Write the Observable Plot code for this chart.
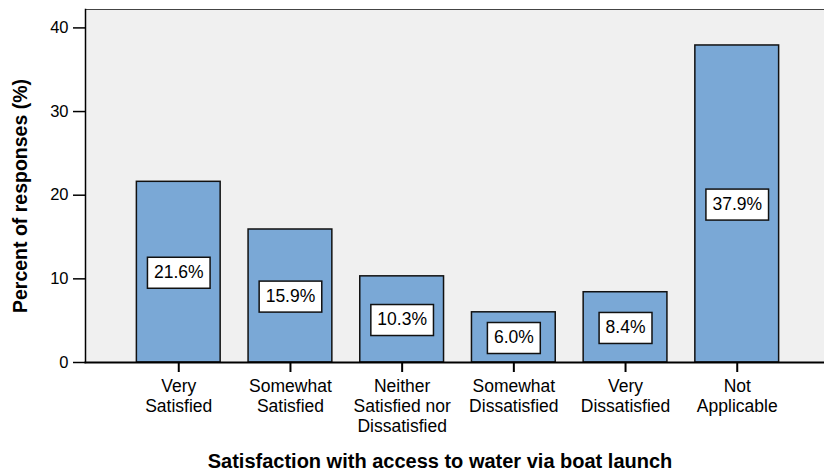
<!DOCTYPE html>
<html>
<head>
<meta charset="utf-8">
<script src="https://cdn.jsdelivr.net/npm/d3@7"></script>
<script src="https://cdn.jsdelivr.net/npm/@observablehq/plot@0.6"></script>
<style>
  html, body { margin: 0; padding: 0; background: #fff; }
</style>
</head>
<body>
<div id="chart"></div>
<script>
// Survey responses: satisfaction with access to water via boat launch
const categories = [
  "Very Satisfied",
  "Somewhat Satisfied",
  "Neither Satisfied nor Dissatisfied",
  "Somewhat Dissatisfied",
  "Very Dissatisfied",
  "Not Applicable"
];
const tickLabels = [
  "Very\nSatisfied",
  "Somewhat\nSatisfied",
  "Neither\nSatisfied nor\nDissatisfied",
  "Somewhat\nDissatisfied",
  "Very\nDissatisfied",
  "Not\nApplicable"
];
const percents = [21.6, 15.9, 10.3, 6.0, 8.4, 37.9];
const yTicks = [0, 10, 20, 30, 40];

const rows = categories.map((c, i) => ({category: c, value: percents[i]}));
const font = '"Liberation Sans", Arial, Helvetica, sans-serif';
const yMax = 42.2;

const chart = Plot.plot({
  width: 824,
  height: 474,
  marginLeft: 85,
  marginTop: 9,
  marginBottom: 112,
  marginRight: 0,
  style: {fontFamily: font, fontSize: "17.5px", color: "#000", background: "#fff", overflow: "visible"},
  x: {type: "band", domain: categories, range: [85, 830], paddingInner: 0.25, paddingOuter: 0.46, round: false},
  y: {domain: [0, yMax]},
  marks: [
    Plot.frame({fill: "#f0f0f0"}),
    Plot.ruleY([yMax], {stroke: "#444", strokeWidth: 1}),
    Plot.barY(rows, {x: "category", y: "value", fill: "#7aa8d6", stroke: "#111", strokeWidth: 1.5}),
    Plot.axisY({ticks: yTicks, tickSize: 12, tickPadding: 5, label: null, fontSize: 16.5, strokeWidth: 1.5}),
    Plot.axisX({
      tickSize: 10, tickPadding: 6, label: null, lineHeight: 1.12, strokeWidth: 2,
      tickFormat: d => tickLabels[categories.indexOf(d)]
    }),
    Plot.frame({anchor: "left", strokeWidth: 1.5}),
    Plot.frame({anchor: "bottom", strokeWidth: 2}),
    // value labels, each centred at half the bar height
    Plot.text(rows, {
      x: "category", y: d => d.value / 2,
      text: d => d.value.toFixed(1) + "%",
      fontSize: 17.5, fill: "#000"
    }),
    Plot.text(["Percent of responses (%)"], {
      frameAnchor: "left", textAnchor: "middle", lineAnchor: "middle",
      rotate: -90, dx: -65, dy: 10,
      fontWeight: "bold", fontSize: 19.5, fill: "#000"
    }),
    Plot.text(["Satisfaction with access to water via boat launch"], {
      frameAnchor: "bottom", textAnchor: "middle", lineAnchor: "middle",
      dx: -15, dy: 99.5,
      fontWeight: "bold", fontSize: 20, fill: "#000"
    })
  ]
});

document.getElementById("chart").appendChild(chart);

// White boxes with a dark outline behind each value label (first text mark)
const valueGroup = chart.querySelector('g[aria-label="text"]');
if (valueGroup) {
  valueGroup.querySelectorAll("text").forEach(t => {
    const b = t.getBBox();
    const r = document.createElementNS("http://www.w3.org/2000/svg", "rect");
    r.setAttribute("x", b.x - 6.5);
    r.setAttribute("y", b.y + b.height / 2 - 15.5 + 1);
    r.setAttribute("width", b.width + 13);
    r.setAttribute("height", 31);
    r.setAttribute("fill", "#fff");
    r.setAttribute("stroke", "#111");
    r.setAttribute("stroke-width", 1.5);
    const tr = t.getAttribute("transform");
    if (tr) r.setAttribute("transform", tr);
    t.parentNode.insertBefore(r, t);
  });
}
</script>
</body>
</html>
